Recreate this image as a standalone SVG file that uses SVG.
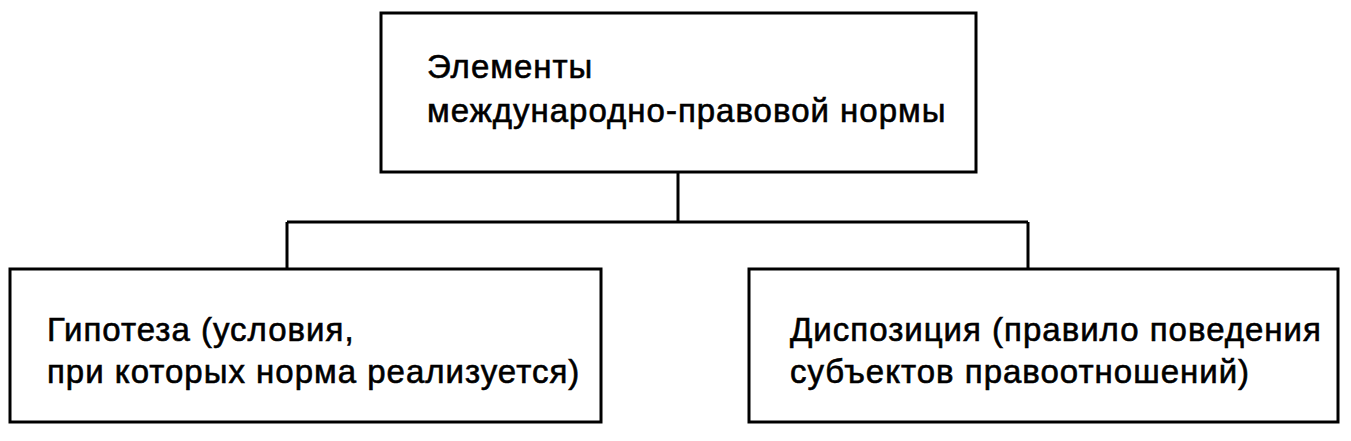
<svg xmlns="http://www.w3.org/2000/svg" width="1351" height="441" viewBox="0 0 1351 441">
<style>
.box{fill:#fff;stroke:#000;stroke-width:3}
.ln{fill:none;stroke:#000;stroke-width:3}
text{font-family:"Liberation Sans",Arial,sans-serif;font-size:33px;letter-spacing:1px;fill:#000;stroke:#000;stroke-width:0.6}
</style>
<rect width="1351" height="441" fill="#fff"/>
<g id="connectors">
<path class="ln" d="M678 172V222M287 222H1028M287 222V269M1028 222V269"/>
</g>
<g id="root">
<rect class="box" x="381" y="13" width="595" height="159"/>
<text x="427" y="78">Элементы</text>
<text x="427" y="122">международно-правовой нормы</text>
</g>
<g id="hypothesis">
<rect class="box" x="10" y="269" width="591" height="153"/>
<text x="47" y="341">Гипотеза (условия,</text>
<text x="47" y="383">при которых норма реализуется)</text>
</g>
<g id="disposition">
<rect class="box" x="749" y="269" width="589" height="153"/>
<text x="790" y="341">Диспозиция (правило поведения</text>
<text x="790" y="383">субъектов правоотношений)</text>
</g>
</svg>
